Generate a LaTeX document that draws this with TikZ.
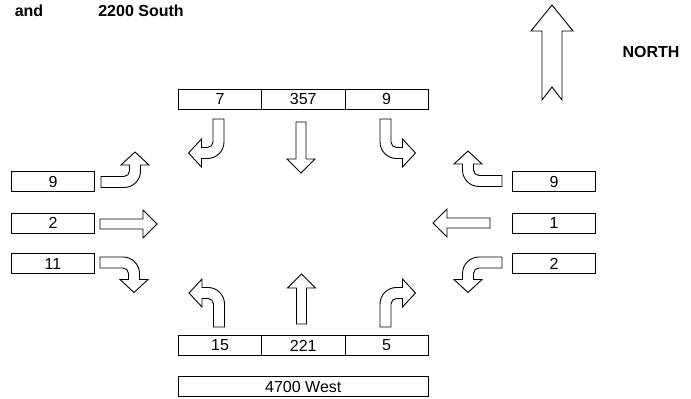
\documentclass[tikz,border=0pt]{standalone}
\usepackage{fontspec}
\setmainfont{Liberation Sans}
\tikzset{
  lane/.style={draw,line width=0.9pt,minimum width=83.3pt,minimum height=20pt,
    inner sep=0pt,font=\fontsize{16}{19}\selectfont},
  blockarrow/.style={draw,line width=0.9pt,fill=white,line join=miter},
  pics/straight/.style={code={
    \draw[blockarrow] (0,-5) -- (#1-14,-5) -- (#1-14,-14) -- (#1,0)
      -- (#1-14,14) -- (#1-14,5) -- (0,5) -- cycle;}},
  pics/bendleft/.style={code={
    \draw[blockarrow] (0,-5.5) -- (0,5.5) -- (23,5.5)
      arc[start angle=-90,end angle=0,radius=5.5] -- (28.5,17) -- (20,17)
      -- (34,30) -- (48,17) -- (39.5,17) -- (39.5,11)
      arc[start angle=0,end angle=-90,radius=16.5] -- cycle;}},
  pics/bendright/.style={code={
    \draw[blockarrow] (0,5.5) -- (0,-5.5) -- (23,-5.5)
      arc[start angle=90,end angle=0,radius=5.5] -- (28.5,-17) -- (20,-17)
      -- (34,-30) -- (48,-17) -- (39.5,-17) -- (39.5,-11)
      arc[start angle=0,end angle=90,radius=16.5] -- cycle;}}
}
\begin{document}
\begin{tikzpicture}[x=1pt,y=1pt]
    \useasboundingbox (0,0) rectangle (691,399);
    % Title
    \node[anchor=base,font=\fontsize{16}{19}\selectfont\bfseries] (title1) at (29,382) {and};
    \node[anchor=base,font=\fontsize{16}{19}\selectfont\bfseries] (title2) at (141,382) {2200 South};
    % North approach
    \node[lane] (northR) at (220,300) {7};
    \node[lane] (northT) at (303.3,300) {357};
    \node[lane] (northL) at (386.6,300) {9};
    \pic[rotate=-90] at (218.5,280) {bendright};
    \pic[rotate=-90] at (301,277) {straight=51};
    \pic[rotate=-90] at (385.5,280) {bendleft};
    % West approach
    \node[lane] (westL) at (53,217.5) {9};
    \node[lane] (westT) at (53,176) {2};
    \node[lane] (westR) at (53,135.5) {11};
    \pic at (101,217) {bendleft};
    \pic at (100,175) {straight=57};
    \pic at (100,136.5) {bendright};
    % East approach
    \node[lane] (eastR) at (554,217.5) {9};
    \node[lane] (eastT) at (554,176) {1};
    \node[lane] (eastL) at (554,135.5) {2};
    \pic[rotate=180] at (502,218) {bendright};
    \pic[rotate=180] at (490,176) {straight=57};
    \pic[rotate=180] at (502,136.5) {bendleft};
    % South approach
    \node[lane] (southL) at (220,53.5) {15};
    \node[lane] (southT) at (303.3,53.5) {221};
    \node[lane] (southR) at (386.6,53.5) {5};
    \pic[rotate=90] at (219,72) {bendleft};
    \pic[rotate=90] at (301.5,75) {straight=50};
    \pic[rotate=90] at (385.5,72) {bendright};
    \node[lane,minimum width=250pt] (street) at (303.3,12.5) {4700 West};
    % North arrow
    \draw[blockarrow] (552,394) -- (573,368) -- (562,368) -- (562,299) -- (552,312)
      -- (542,299) -- (542,368) -- (531,368) -- cycle;
    \node[font=\fontsize{16}{19}\selectfont\bfseries] (north) at (651,347) {NORTH};
\end{tikzpicture}
\end{document}
